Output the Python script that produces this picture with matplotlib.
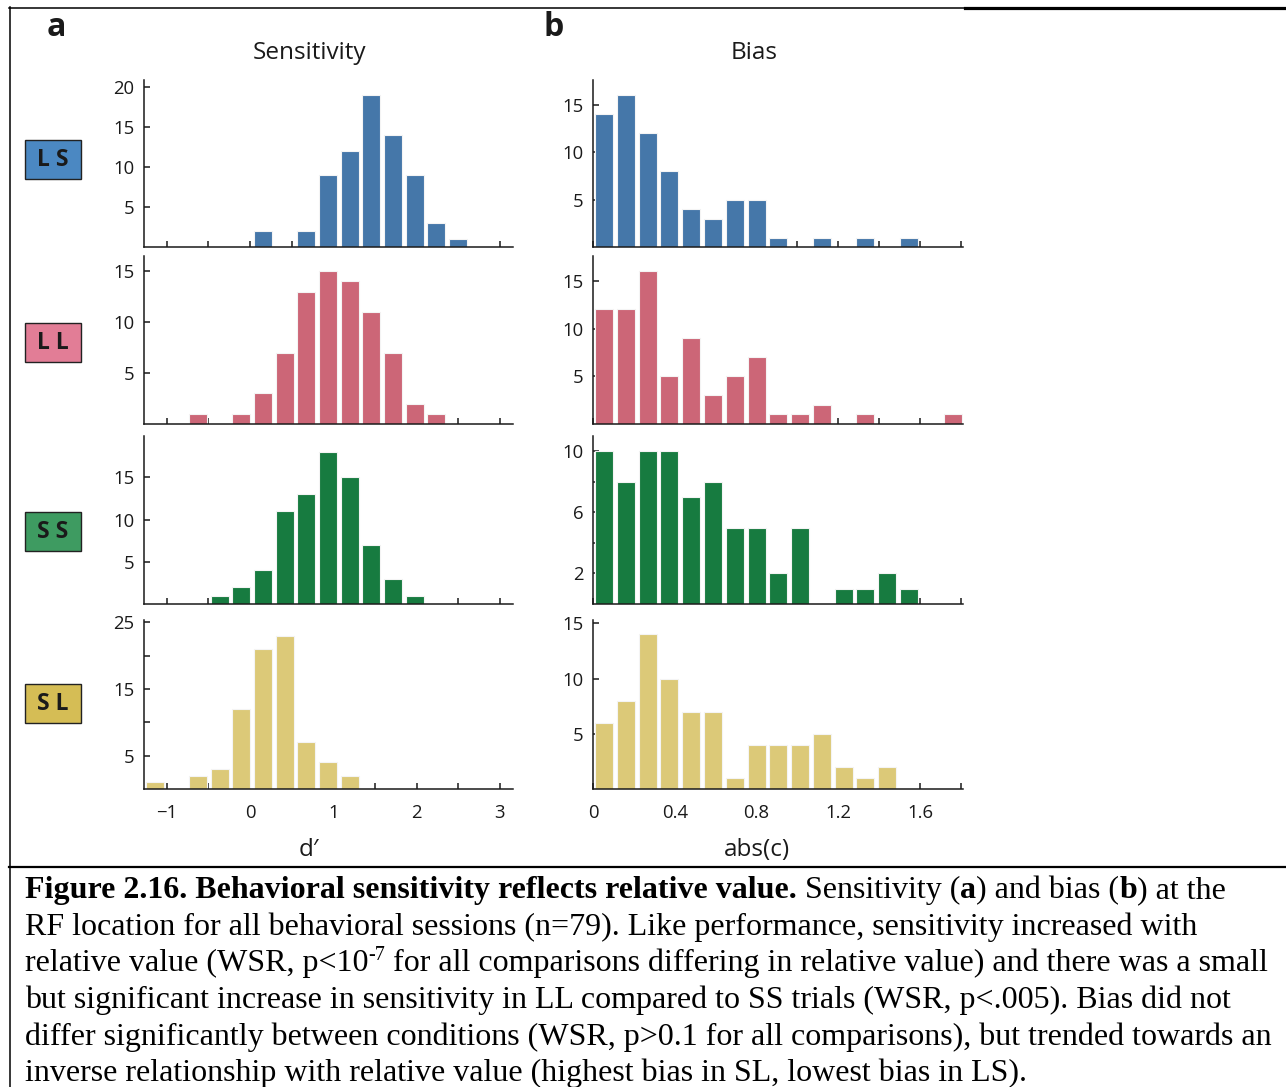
import matplotlib
matplotlib.use("Agg")
import matplotlib.pyplot as plt
from matplotlib.lines import Line2D
from matplotlib.patches import Rectangle

plt.rcParams['font.family'] = ['Open Sans', 'DejaVu Sans']

W, H = 1286, 1087

conditions = ["LS", "LL", "SS", "SL"]
bar_colors = ["#4577a9", "#cc6677", "#177b40", "#dcc978"]
box_colors = ["#4b88c2", "#e27d96", "#3e9b61", "#d5bd55"]

# d' histogram (bin centres, counts per condition)
dprime_bins = [-1.144, -0.884, -0.624, -0.364, -0.104, 0.156, 0.416, 0.676,
               0.936, 1.196, 1.456, 1.716, 1.976, 2.236, 2.496]
dprime_LS = [0, 0, 0, 0, 0, 2, 0, 2, 9, 12, 19, 14, 9, 3, 1]
dprime_LL = [0, 0, 1, 0, 1, 3, 7, 13, 15, 14, 11, 7, 2, 1, 0]
dprime_SS = [0, 0, 0, 1, 2, 4, 11, 13, 18, 15, 7, 3, 1, 0, 0]
dprime_SL = [1, 0, 2, 3, 12, 21, 23, 7, 4, 2, 0, 0, 0, 0, 0]

# abs(c) histogram
bias_bins = [0.053, 0.160, 0.267, 0.373, 0.480, 0.587, 0.693, 0.800, 0.907,
             1.013, 1.120, 1.227, 1.333, 1.440, 1.547, 1.653, 1.760]
bias_LS = [14, 16, 12, 8, 4, 3, 5, 5, 1, 0, 1, 0, 1, 0, 1, 0, 0]
bias_LL = [12, 12, 16, 5, 9, 3, 5, 7, 1, 1, 2, 0, 1, 0, 0, 0, 1]
bias_SS = [10, 8, 10, 10, 7, 8, 5, 5, 2, 5, 0, 1, 1, 2, 1, 0, 0]
bias_SL = [6, 8, 14, 10, 7, 7, 1, 4, 4, 4, 5, 2, 1, 2, 0, 0, 0]

dprime_counts = [dprime_LS, dprime_LL, dprime_SS, dprime_SL]
bias_counts = [bias_LS, bias_LL, bias_SS, bias_SL]

dprime_yticks = [[5, 10, 15, 20], [5, 10, 15], [5, 10, 15], [5, 10, 15, 20, 25]]
dprime_ylabels = [["5", "10", "15", "20"], ["5", "10", "15"], ["5", "10", "15"],
                  ["5", "", "15", "", "25"]]
bias_yticks = [[5, 10, 15], [5, 10, 15], [2, 4, 6, 8, 10], [5, 10, 15]]
bias_ylabels = [["5", "10", "15"], ["5", "10", "15"], ["2", "", "6", "", "10"],
                ["5", "10", "15"]]

dprime_xticks = [-1, -0.5, 0, 0.5, 1, 1.5, 2, 2.5, 3]
dprime_xlabels = ["\u22121", "", "0", "", "1", "", "2", "", "3"]
bias_xticks = [0, 0.2, 0.4, 0.6, 0.8, 1.0, 1.2, 1.4, 1.6, 1.8]
bias_xlabels = ["0", "", "0.4", "", "0.8", "", "1.2", "", "1.6", ""]

# layout in pixels
row_top = [80, 256, 436, 620]
row_base = [247, 424, 604, 789]
dprime_ytop = [20.9, 16.5, 19.9, 25.35]
bias_ytop = [17.6, 17.6, 11.0, 15.3]
box_y = [140, 323, 512, 684]

fig = plt.figure(figsize=(W / 100, H / 100), dpi=100)


def px_rect(x0, x1, y0, y1):
    return [x0 / W, 1 - y1 / H, (x1 - x0) / W, (y1 - y0) / H]


def draw_hist(ax, bins, counts, width, color, xlim, ytop, xticks, xlabels,
              yticks, ylabels, show_x):
    ax.bar(bins, counts, width=width, color=color, edgecolor="#f4f4f4",
           linewidth=0.8, zorder=2)
    ax.set_axisbelow(True)
    ax.set_xlim(xlim)
    ax.set_ylim(0, ytop)
    for s in ["top", "right"]:
        ax.spines[s].set_visible(False)
    for s in ["left", "bottom"]:
        ax.spines[s].set_linewidth(1.1)
        ax.spines[s].set_color("#1a1a1a")
    ax.set_xticks(xticks)
    ax.set_yticks(yticks)
    ax.set_yticklabels(ylabels)
    if show_x:
        ax.set_xticklabels(xlabels)
    else:
        ax.set_xticklabels([])
    ax.tick_params(axis="both", direction="in", length=4, width=1.1,
                   color="#1a1a1a", labelsize=13.3, labelcolor="#1a1a1a")
    ax.tick_params(axis="y", pad=7)
    ax.tick_params(axis="x", pad=11)


for i in range(4):
    ax = fig.add_axes(px_rect(144, 513, row_top[i], row_base[i]))
    draw_hist(ax, dprime_bins, dprime_counts[i], 0.215, bar_colors[i],
              (-1.272, 3.157), dprime_ytop[i], dprime_xticks, dprime_xlabels,
              dprime_yticks[i], dprime_ylabels[i], i == 3)

    ax = fig.add_axes(px_rect(593, 963, row_top[i], row_base[i]))
    draw_hist(ax, bias_bins, bias_counts[i], 0.088, bar_colors[i],
              (0.005, 1.81), bias_ytop[i], bias_xticks, bias_xlabels,
              bias_yticks[i], bias_ylabels[i], i == 3)

    # condition label box
    fig.add_artist(Rectangle((25 / W, 1 - (box_y[i] + 39) / H), 56 / W, 39 / H,
                             transform=fig.transFigure, facecolor=box_colors[i],
                             edgecolor="#222222", linewidth=1.0))
    fig.text(53 / W, 1 - (box_y[i] + 20) / H, " ".join(conditions[i]),
             ha="center", va="center", fontsize=16.5, fontweight="bold",
             color="#1a1a1a")

# titles, axis labels, panel letters
fig.text(309 / W, 1 - 53 / H, "Sensitivity", ha="center", va="center", fontsize=17.5, color="#1a1a1a")
fig.text(754 / W, 1 - 53 / H, "Bias", ha="center", va="center", fontsize=17.5, color="#1a1a1a")
fig.text(309 / W, 1 - 850 / H, "d\u2032", ha="center", va="center", fontsize=17.5, color="#1a1a1a")
fig.text(757 / W, 1 - 850 / H, "abs(c)", ha="center", va="center", fontsize=17.5, color="#1a1a1a")
fig.text(56 / W, 1 - 28 / H, "a", ha="center", va="center", fontsize=23, fontweight="bold", color="#1a1a1a")
fig.text(554 / W, 1 - 28 / H, "b", ha="center", va="center", fontsize=23, fontweight="bold", color="#1a1a1a")

# frame lines
def hline(x0, x1, y, lw):
    fig.add_artist(Line2D([x0 / W, x1 / W], [1 - y / H, 1 - y / H],
                          transform=fig.transFigure, color="black", linewidth=lw))

hline(9, 965, 7.5, 1.1)
hline(965, 1286, 7.5, 2.3)
hline(9, 1286, 867, 1.6)
fig.add_artist(Line2D([9.5 / W, 9.5 / W], [1 - 7 / H, 0], transform=fig.transFigure,
                      color="black", linewidth=1.1))

# caption
renderer = fig.canvas.get_renderer()
serif = ["Liberation Serif", "DejaVu Serif"]
cap_size = 23


def write_line(pieces, y):
    x = 25
    for txt, weight, size, dy in pieces:
        t = fig.text(x / W, 1 - (y - dy) / H, txt, fontsize=size, fontweight=weight,
                     family=serif, va="baseline", ha="left", color="black")
        x = t.get_window_extent(renderer).x1


caption = [
    [("Figure 2.16. Behavioral sensitivity reflects relative value.", "bold", cap_size, 0),
     (" Sensitivity (", "normal", cap_size, 0), ("a", "bold", cap_size, 0),
     (") and bias (", "normal", cap_size, 0), ("b", "bold", cap_size, 0),
     (") at the", "normal", cap_size, 0)],
    [("RF location for all behavioral sessions (n=79). Like performance, sensitivity increased with",
      "normal", cap_size, 0)],
    [("relative value (WSR, p<10", "normal", cap_size, 0), ("-7", "normal", 14.5, 11),
     (" for all comparisons differing in relative value) and there was a small", "normal", cap_size, 0)],
    [("but significant increase in sensitivity in LL compared to SS trials (WSR, p<.005). Bias did not",
      "normal", cap_size, 0)],
    [("differ significantly between conditions (WSR, p>0.1 for all comparisons), but trended towards an",
      "normal", cap_size, 0)],
    [("inverse relationship with relative value (highest bias in SL, lowest bias in LS).",
      "normal", cap_size, 0)],
]
for k, line in enumerate(caption):
    write_line(line, 898 + 36.7 * k)

fig.savefig("out.png", dpi=100)
